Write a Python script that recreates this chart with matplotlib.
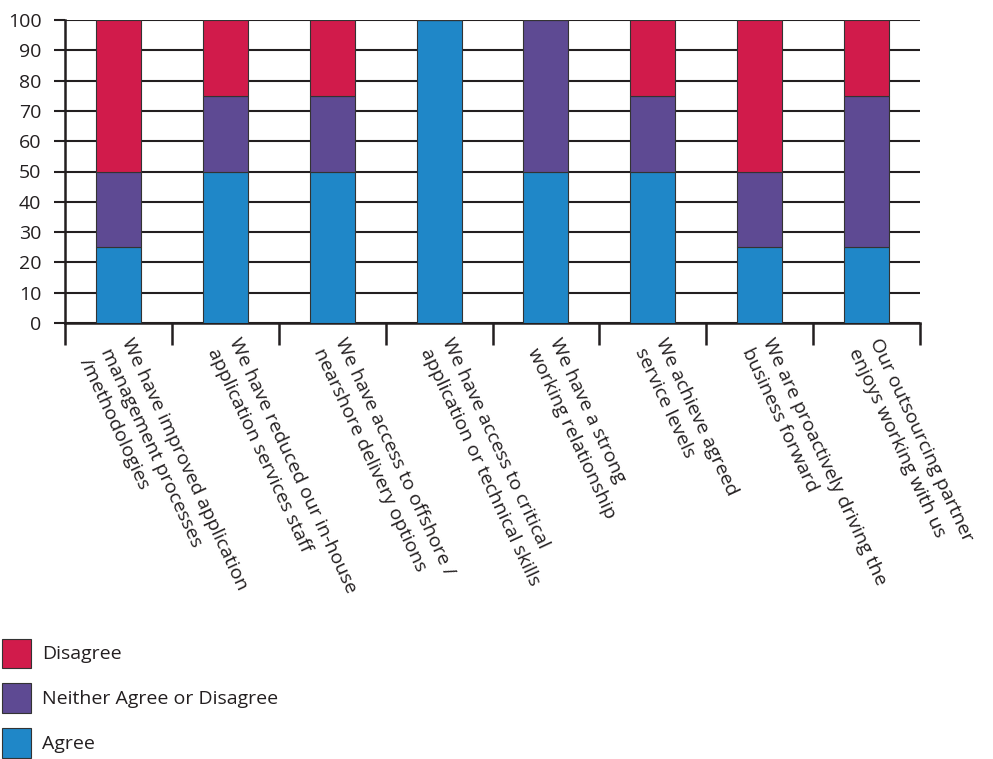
import matplotlib
matplotlib.use("Agg")
import matplotlib.pyplot as plt
import matplotlib.transforms as mtransforms
from matplotlib.patches import Patch
import numpy as np

categories = [
    "We have improved application\nmanagement processes\n/methodologies",
    "We have reduced our in-house\napplication services staff",
    "We have access to offshore /\nnearshore delivery options",
    "We have access to critical\napplication or technical skills",
    "We have a strong\nworking relationship",
    "We achieve agreed\nservice levels",
    "We are proactively driving the\nbusiness forward",
    "Our outsourcing partner\nenjoys working with us",
]
agree = [25, 50, 50, 100, 50, 50, 25, 25]
neither = [25, 25, 25, 0, 50, 25, 25, 50]
disagree = [50, 25, 25, 0, 0, 25, 50, 25]
series_names = ["Disagree", "Neither Agree or Disagree", "Agree"]
yticks = [0, 10, 20, 30, 40, 50, 60, 70, 80, 90, 100]

c_agree = "#1F87C8"
c_neither = "#5E4A93"
c_disagree = "#D11B4B"
edge = "#333333"
dark = "#231F20"

plt.rcParams["font.family"] = ["Open Sans", "DejaVu Sans"]

fig = plt.figure(figsize=(9.93, 7.59), dpi=100)
ax = fig.add_axes([65/993, 1 - 323/759, (920-65)/993, (323-20)/759])

x = np.arange(len(categories))
w = 0.42
a = np.array(agree); n = np.array(neither); d = np.array(disagree)
ax.bar(x, a, w, color=c_agree, edgecolor=edge, linewidth=0.8, zorder=3)
ax.bar(x, n, w, bottom=a, color=c_neither, edgecolor=edge, linewidth=0.8, zorder=3)
ax.bar(x, d, w, bottom=a + n, color=c_disagree, edgecolor=edge, linewidth=0.8, zorder=3)

ax.set_xlim(-0.5, len(categories) - 0.5)
ax.set_ylim(0, 100)
ax.set_yticks(yticks)
ax.yaxis.grid(True, color=dark, linewidth=1.5, zorder=0)
ax.set_axisbelow(True)

for s in ["top", "right"]:
    ax.spines[s].set_visible(False)
for s in ["left", "bottom"]:
    ax.spines[s].set_color(dark)
    ax.spines[s].set_linewidth(1.8)

ax.tick_params(axis="y", direction="out", length=8, width=1.5, color=dark,
               labelsize=14, labelcolor=dark, pad=9)

ax.set_xticks(np.arange(-0.5, len(categories)), minor=False)
ax.set_xticklabels([])
ax.tick_params(axis="x", which="major", direction="out", length=16, width=1.8, color=dark)
ax.set_xticks(x, minor=True)
ax.set_xticklabels(categories, minor=True)
ax.tick_params(axis="x", which="minor", length=0, labelsize=14, labelcolor=dark, pad=9)

offset = mtransforms.ScaledTranslation(16/100, 0, fig.dpi_scale_trans)
for lbl in ax.get_xticklabels(minor=True):
    lbl.set_rotation(-65)
    lbl.set_rotation_mode("anchor")
    lbl.set_ha("left")
    lbl.set_va("top")
    lbl.set_linespacing(1.4)
    lbl.set_transform(lbl.get_transform() + offset)

handles = [Patch(facecolor=c_disagree, edgecolor=edge, linewidth=0.8),
           Patch(facecolor=c_neither, edgecolor=edge, linewidth=0.8),
           Patch(facecolor=c_agree, edgecolor=edge, linewidth=0.8)]
fig.legend(handles, series_names, loc="lower left", bbox_to_anchor=(2/993, 1.5/759),
           frameon=False, fontsize=14, handlelength=1.5, handleheight=1.92,
           handletextpad=0.57, labelspacing=0.82, borderpad=0, borderaxespad=0,
           labelcolor=dark)

fig.savefig("out.png", dpi=100)
